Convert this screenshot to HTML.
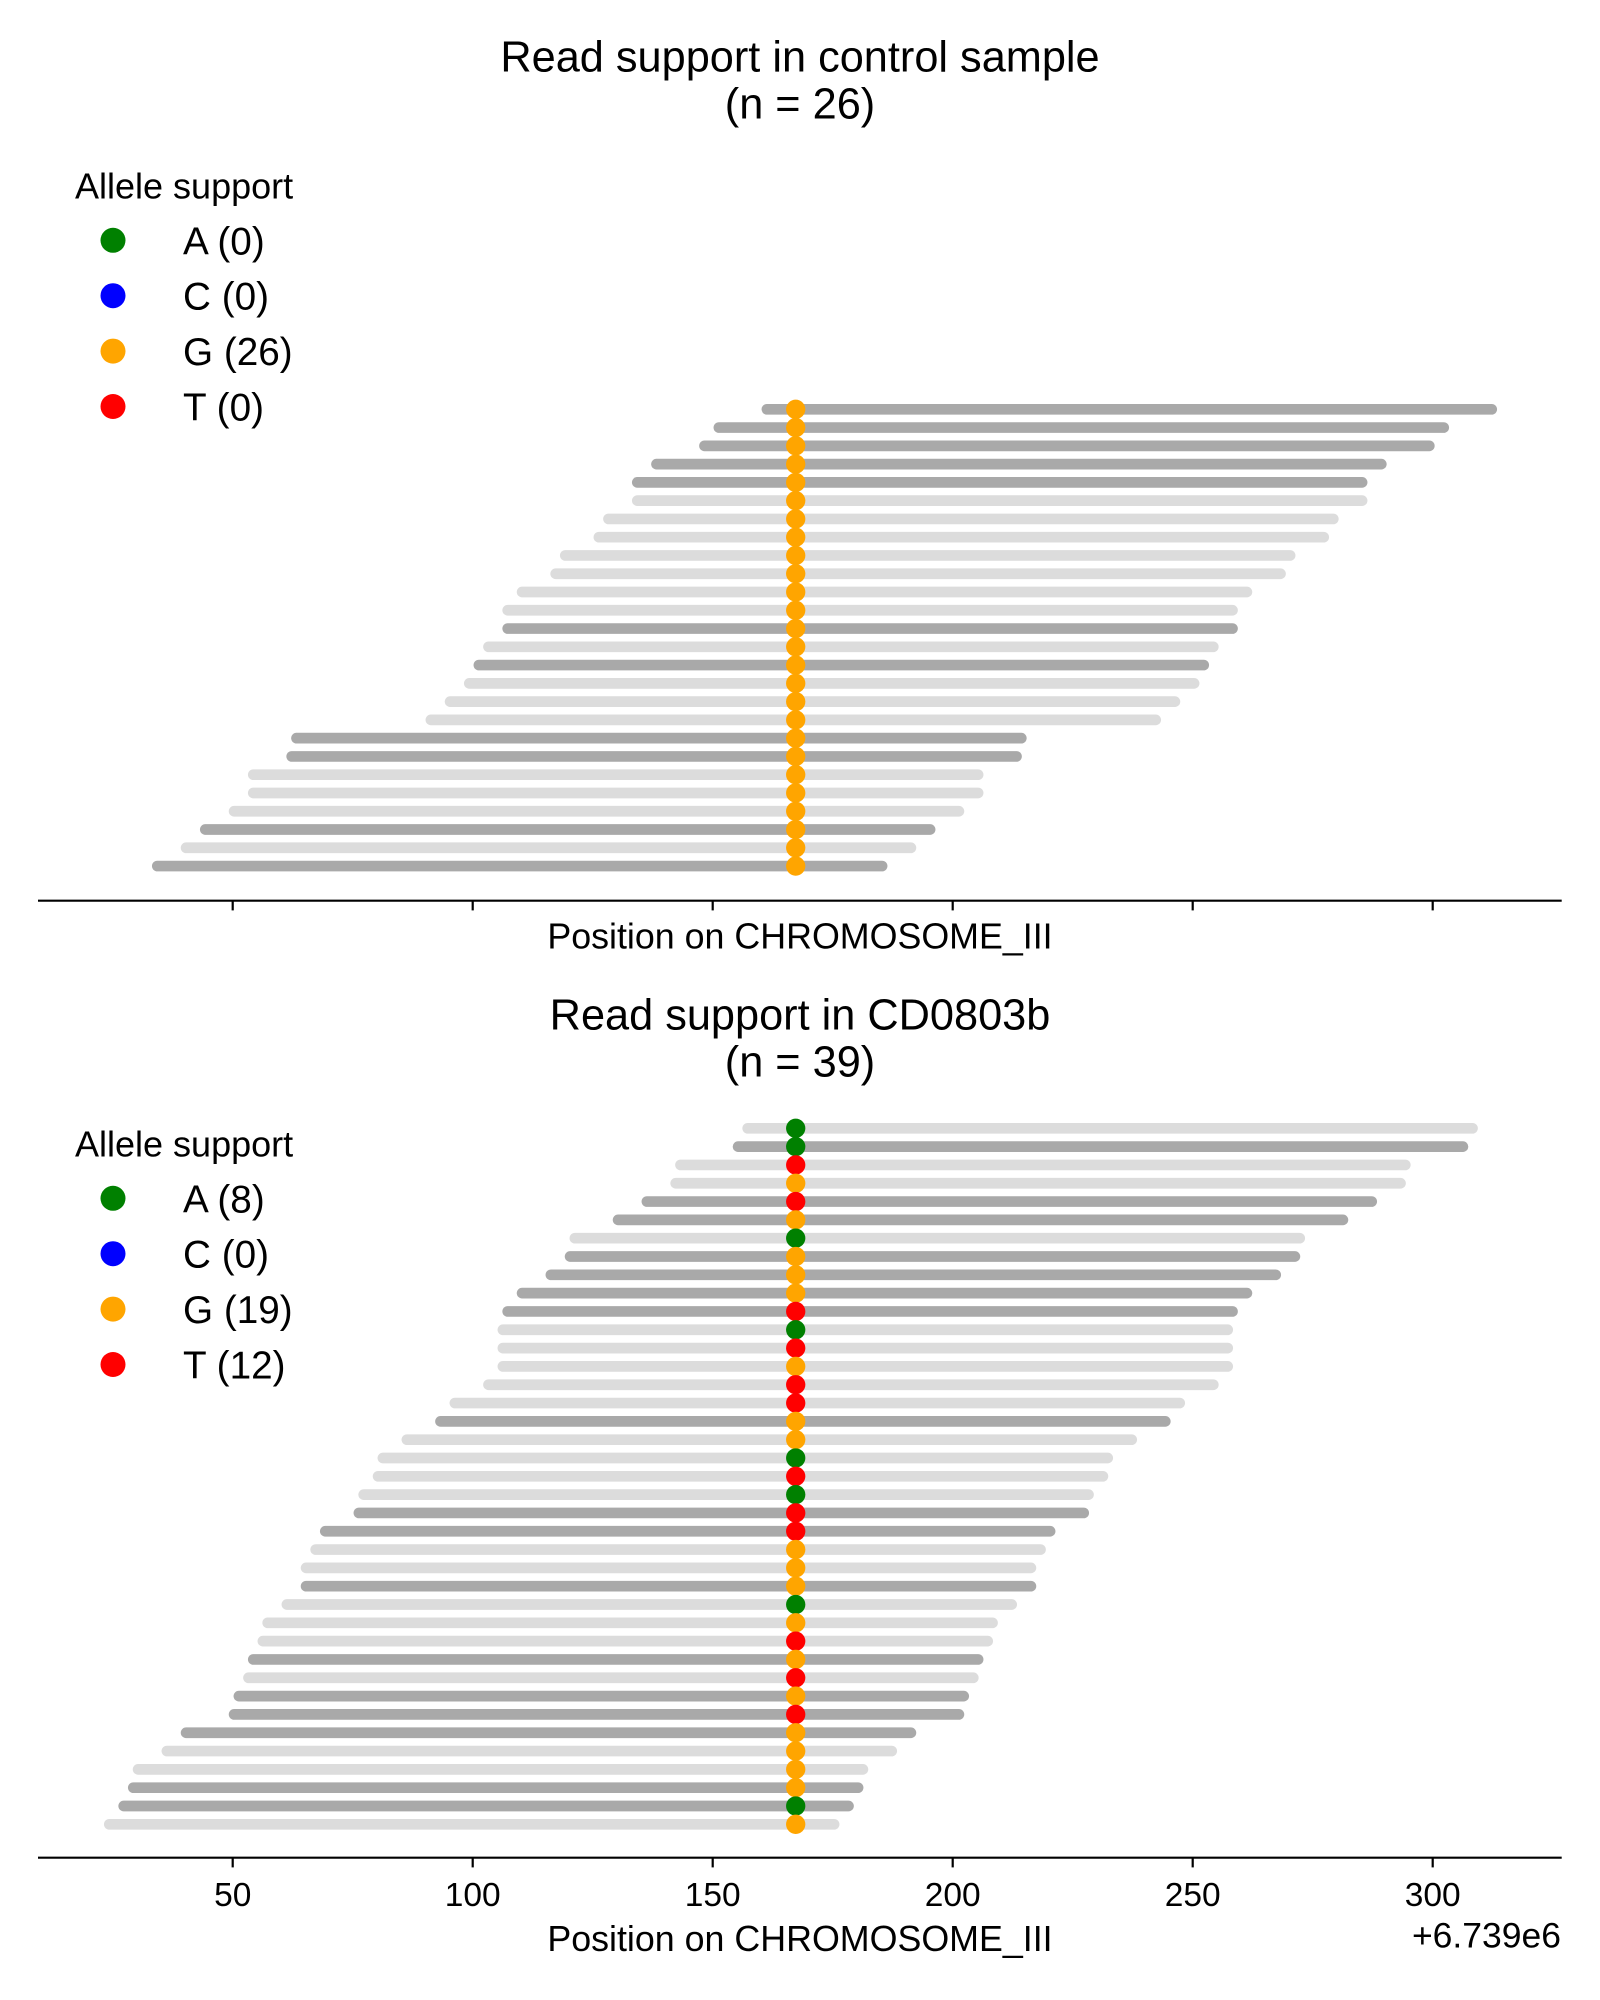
<!DOCTYPE html>
<html>
<head>
<meta charset="utf-8">
<style>
  html, body { margin: 0; padding: 0; background: #ffffff; }
  svg { display: block; }
  text { font-family: "Liberation Sans", Arial, Helvetica, sans-serif; fill: #000; }
  .d { stroke: #a9a9a9; stroke-width: 10.7; stroke-linecap: round; }
  .l { stroke: #dcdcdc; stroke-width: 10.7; stroke-linecap: round; }
  .g { fill: #008000; }
  .b { fill: #0000ff; }
  .o { fill: #ffa500; }
  .r { fill: #ff0000; }
  .ax { stroke: #000; stroke-width: 2.2; stroke-linecap: butt; }
  .tk { stroke: #000; stroke-width: 2.2; }
  .title { font-size: 43.3px; }
  .lab { font-size: 33.5px; }
  .xl { font-size: 35.8px; }
  .off { font-size: 35.5px; }
  .leg { font-size: 38.7px; }
  .legt { font-size: 36px; }
</style>
</head>
<body>
<svg width="1600" height="2000" viewBox="0 0 1600 2000" xmlns="http://www.w3.org/2000/svg">
<rect x="0" y="0" width="1600" height="2000" fill="#ffffff"/>

<!-- ================= TOP PANEL ================= -->
<text class="title" x="800" y="71.7" text-anchor="middle">Read support in control sample</text>
<text class="title" x="800" y="118.4" text-anchor="middle">(n = 26)</text>

<!-- legend top -->
<text class="legt" x="75" y="198.3">Allele support</text>
<circle class="g" cx="113" cy="240.3" r="12.5"/>
<text class="leg" x="183" y="254.3">A (0)</text>
<circle class="b" cx="113" cy="295.7" r="12.5"/>
<text class="leg" x="183" y="309.7">C (0)</text>
<circle class="o" cx="113" cy="351.1" r="12.5"/>
<text class="leg" x="183" y="365.1">G (26)</text>
<circle class="r" cx="113" cy="406.5" r="12.5"/>
<text class="leg" x="183" y="420.5">T (0)</text>

<!-- bars top -->
<line class="d" x1="766.9" y1="409.3" x2="1491.7" y2="409.3"/>
<line class="d" x1="718.9" y1="427.57" x2="1443.7" y2="427.57"/>
<line class="d" x1="704.5" y1="445.84" x2="1429.3" y2="445.84"/>
<line class="d" x1="656.5" y1="464.11" x2="1381.3" y2="464.11"/>
<line class="d" x1="637.3" y1="482.38" x2="1362.1" y2="482.38"/>
<line class="l" x1="637.3" y1="500.65" x2="1362.1" y2="500.65"/>
<line class="l" x1="608.5" y1="518.92" x2="1333.3" y2="518.92"/>
<line class="l" x1="598.9" y1="537.19" x2="1323.7" y2="537.19"/>
<line class="l" x1="565.3" y1="555.46" x2="1290.1" y2="555.46"/>
<line class="l" x1="555.7" y1="573.73" x2="1280.5" y2="573.73"/>
<line class="l" x1="522.1" y1="592.0" x2="1246.9" y2="592.0"/>
<line class="l" x1="507.7" y1="610.27" x2="1232.5" y2="610.27"/>
<line class="d" x1="507.7" y1="628.54" x2="1232.5" y2="628.54"/>
<line class="l" x1="488.5" y1="646.81" x2="1213.3" y2="646.81"/>
<line class="d" x1="478.9" y1="665.08" x2="1203.7" y2="665.08"/>
<line class="l" x1="469.3" y1="683.35" x2="1194.1" y2="683.35"/>
<line class="l" x1="450.1" y1="701.62" x2="1174.9" y2="701.62"/>
<line class="l" x1="430.9" y1="719.89" x2="1155.7" y2="719.89"/>
<line class="d" x1="296.5" y1="738.16" x2="1021.3" y2="738.16"/>
<line class="d" x1="291.7" y1="756.43" x2="1016.5" y2="756.43"/>
<line class="l" x1="253.3" y1="774.7" x2="978.1" y2="774.7"/>
<line class="l" x1="253.3" y1="792.97" x2="978.1" y2="792.97"/>
<line class="l" x1="234.1" y1="811.24" x2="958.9" y2="811.24"/>
<line class="d" x1="205.3" y1="829.51" x2="930.1" y2="829.51"/>
<line class="l" x1="186.1" y1="847.78" x2="910.9" y2="847.78"/>
<line class="d" x1="157.3" y1="866.05" x2="882.1" y2="866.05"/>

<!-- dots top -->
<g class="o">
<circle cx="795.7" cy="409.3" r="9.65"/>
<circle cx="795.7" cy="427.57" r="9.65"/>
<circle cx="795.7" cy="445.84" r="9.65"/>
<circle cx="795.7" cy="464.11" r="9.65"/>
<circle cx="795.7" cy="482.38" r="9.65"/>
<circle cx="795.7" cy="500.65" r="9.65"/>
<circle cx="795.7" cy="518.92" r="9.65"/>
<circle cx="795.7" cy="537.19" r="9.65"/>
<circle cx="795.7" cy="555.46" r="9.65"/>
<circle cx="795.7" cy="573.73" r="9.65"/>
<circle cx="795.7" cy="592.0" r="9.65"/>
<circle cx="795.7" cy="610.27" r="9.65"/>
<circle cx="795.7" cy="628.54" r="9.65"/>
<circle cx="795.7" cy="646.81" r="9.65"/>
<circle cx="795.7" cy="665.08" r="9.65"/>
<circle cx="795.7" cy="683.35" r="9.65"/>
<circle cx="795.7" cy="701.62" r="9.65"/>
<circle cx="795.7" cy="719.89" r="9.65"/>
<circle cx="795.7" cy="738.16" r="9.65"/>
<circle cx="795.7" cy="756.43" r="9.65"/>
<circle cx="795.7" cy="774.7" r="9.65"/>
<circle cx="795.7" cy="792.97" r="9.65"/>
<circle cx="795.7" cy="811.24" r="9.65"/>
<circle cx="795.7" cy="829.51" r="9.65"/>
<circle cx="795.7" cy="847.78" r="9.65"/>
<circle cx="795.7" cy="866.05" r="9.65"/>
</g>

<!-- axis top -->
<line class="ax" x1="38" y1="900.7" x2="1561.7" y2="900.7"/>
<line class="tk" x1="232.7" y1="900.7" x2="232.7" y2="910.4"/>
<line class="tk" x1="472.7" y1="900.7" x2="472.7" y2="910.4"/>
<line class="tk" x1="712.7" y1="900.7" x2="712.7" y2="910.4"/>
<line class="tk" x1="952.7" y1="900.7" x2="952.7" y2="910.4"/>
<line class="tk" x1="1192.7" y1="900.7" x2="1192.7" y2="910.4"/>
<line class="tk" x1="1432.7" y1="900.7" x2="1432.7" y2="910.4"/>
<text class="xl" x="800" y="948.3" text-anchor="middle">Position on CHROMOSOME_III</text>

<!-- ================= BOTTOM PANEL ================= -->
<text class="title" x="800" y="1029.7" text-anchor="middle">Read support in CD0803b</text>
<text class="title" x="800" y="1076.5" text-anchor="middle">(n = 39)</text>

<!-- legend bottom -->
<text class="legt" x="75" y="1156.3">Allele support</text>
<circle class="g" cx="113" cy="1198.3" r="12.5"/>
<text class="leg" x="183" y="1212.3">A (8)</text>
<circle class="b" cx="113" cy="1253.7" r="12.5"/>
<text class="leg" x="183" y="1267.7">C (0)</text>
<circle class="o" cx="113" cy="1309.1" r="12.5"/>
<text class="leg" x="183" y="1323.1">G (19)</text>
<circle class="r" cx="113" cy="1364.5" r="12.5"/>
<text class="leg" x="183" y="1378.5">T (12)</text>

<!-- bars bottom -->
<line class="l" x1="747.7" y1="1128.3" x2="1472.5" y2="1128.3"/>
<line class="d" x1="738.1" y1="1146.62" x2="1462.9" y2="1146.62"/>
<line class="l" x1="680.5" y1="1164.93" x2="1405.3" y2="1164.93"/>
<line class="l" x1="675.7" y1="1183.25" x2="1400.5" y2="1183.25"/>
<line class="d" x1="646.9" y1="1201.56" x2="1371.7" y2="1201.56"/>
<line class="d" x1="618.1" y1="1219.88" x2="1342.9" y2="1219.88"/>
<line class="l" x1="574.9" y1="1238.2" x2="1299.7" y2="1238.2"/>
<line class="d" x1="570.1" y1="1256.51" x2="1294.9" y2="1256.51"/>
<line class="d" x1="550.9" y1="1274.83" x2="1275.7" y2="1274.83"/>
<line class="d" x1="522.1" y1="1293.14" x2="1246.9" y2="1293.14"/>
<line class="d" x1="507.7" y1="1311.46" x2="1232.5" y2="1311.46"/>
<line class="l" x1="502.9" y1="1329.78" x2="1227.7" y2="1329.78"/>
<line class="l" x1="502.9" y1="1348.09" x2="1227.7" y2="1348.09"/>
<line class="l" x1="502.9" y1="1366.41" x2="1227.7" y2="1366.41"/>
<line class="l" x1="488.5" y1="1384.72" x2="1213.3" y2="1384.72"/>
<line class="l" x1="454.9" y1="1403.04" x2="1179.7" y2="1403.04"/>
<line class="d" x1="440.5" y1="1421.36" x2="1165.3" y2="1421.36"/>
<line class="l" x1="406.9" y1="1439.67" x2="1131.7" y2="1439.67"/>
<line class="l" x1="382.9" y1="1457.99" x2="1107.7" y2="1457.99"/>
<line class="l" x1="378.1" y1="1476.3" x2="1102.9" y2="1476.3"/>
<line class="l" x1="363.7" y1="1494.62" x2="1088.5" y2="1494.62"/>
<line class="d" x1="358.9" y1="1512.94" x2="1083.7" y2="1512.94"/>
<line class="d" x1="325.3" y1="1531.25" x2="1050.1" y2="1531.25"/>
<line class="l" x1="315.7" y1="1549.57" x2="1040.5" y2="1549.57"/>
<line class="l" x1="306.1" y1="1567.88" x2="1030.9" y2="1567.88"/>
<line class="d" x1="306.1" y1="1586.2" x2="1030.9" y2="1586.2"/>
<line class="l" x1="286.9" y1="1604.52" x2="1011.7" y2="1604.52"/>
<line class="l" x1="267.7" y1="1622.83" x2="992.5" y2="1622.83"/>
<line class="l" x1="262.9" y1="1641.15" x2="987.7" y2="1641.15"/>
<line class="d" x1="253.3" y1="1659.46" x2="978.1" y2="1659.46"/>
<line class="l" x1="248.5" y1="1677.78" x2="973.3" y2="1677.78"/>
<line class="d" x1="238.9" y1="1696.1" x2="963.7" y2="1696.1"/>
<line class="d" x1="234.1" y1="1714.41" x2="958.9" y2="1714.41"/>
<line class="d" x1="186.1" y1="1732.73" x2="910.9" y2="1732.73"/>
<line class="l" x1="166.9" y1="1751.04" x2="891.7" y2="1751.04"/>
<line class="l" x1="138.1" y1="1769.36" x2="862.9" y2="1769.36"/>
<line class="d" x1="133.3" y1="1787.68" x2="858.1" y2="1787.68"/>
<line class="d" x1="123.7" y1="1805.99" x2="848.5" y2="1805.99"/>
<line class="l" x1="109.3" y1="1824.31" x2="834.1" y2="1824.31"/>

<!-- dots bottom -->
<circle class="g" cx="795.7" cy="1128.3" r="9.65"/>
<circle class="g" cx="795.7" cy="1146.62" r="9.65"/>
<circle class="r" cx="795.7" cy="1164.93" r="9.65"/>
<circle class="o" cx="795.7" cy="1183.25" r="9.65"/>
<circle class="r" cx="795.7" cy="1201.56" r="9.65"/>
<circle class="o" cx="795.7" cy="1219.88" r="9.65"/>
<circle class="g" cx="795.7" cy="1238.2" r="9.65"/>
<circle class="o" cx="795.7" cy="1256.51" r="9.65"/>
<circle class="o" cx="795.7" cy="1274.83" r="9.65"/>
<circle class="o" cx="795.7" cy="1293.14" r="9.65"/>
<circle class="r" cx="795.7" cy="1311.46" r="9.65"/>
<circle class="g" cx="795.7" cy="1329.78" r="9.65"/>
<circle class="r" cx="795.7" cy="1348.09" r="9.65"/>
<circle class="o" cx="795.7" cy="1366.41" r="9.65"/>
<circle class="r" cx="795.7" cy="1384.72" r="9.65"/>
<circle class="r" cx="795.7" cy="1403.04" r="9.65"/>
<circle class="o" cx="795.7" cy="1421.36" r="9.65"/>
<circle class="o" cx="795.7" cy="1439.67" r="9.65"/>
<circle class="g" cx="795.7" cy="1457.99" r="9.65"/>
<circle class="r" cx="795.7" cy="1476.3" r="9.65"/>
<circle class="g" cx="795.7" cy="1494.62" r="9.65"/>
<circle class="r" cx="795.7" cy="1512.94" r="9.65"/>
<circle class="r" cx="795.7" cy="1531.25" r="9.65"/>
<circle class="o" cx="795.7" cy="1549.57" r="9.65"/>
<circle class="o" cx="795.7" cy="1567.88" r="9.65"/>
<circle class="o" cx="795.7" cy="1586.2" r="9.65"/>
<circle class="g" cx="795.7" cy="1604.52" r="9.65"/>
<circle class="o" cx="795.7" cy="1622.83" r="9.65"/>
<circle class="r" cx="795.7" cy="1641.15" r="9.65"/>
<circle class="o" cx="795.7" cy="1659.46" r="9.65"/>
<circle class="r" cx="795.7" cy="1677.78" r="9.65"/>
<circle class="o" cx="795.7" cy="1696.1" r="9.65"/>
<circle class="r" cx="795.7" cy="1714.41" r="9.65"/>
<circle class="o" cx="795.7" cy="1732.73" r="9.65"/>
<circle class="o" cx="795.7" cy="1751.04" r="9.65"/>
<circle class="o" cx="795.7" cy="1769.36" r="9.65"/>
<circle class="o" cx="795.7" cy="1787.68" r="9.65"/>
<circle class="g" cx="795.7" cy="1805.99" r="9.65"/>
<circle class="o" cx="795.7" cy="1824.31" r="9.65"/>

<!-- axis bottom -->
<line class="ax" x1="38" y1="1857.7" x2="1561.7" y2="1857.7"/>
<line class="tk" x1="232.7" y1="1857.7" x2="232.7" y2="1867.4"/>
<line class="tk" x1="472.7" y1="1857.7" x2="472.7" y2="1867.4"/>
<line class="tk" x1="712.7" y1="1857.7" x2="712.7" y2="1867.4"/>
<line class="tk" x1="952.7" y1="1857.7" x2="952.7" y2="1867.4"/>
<line class="tk" x1="1192.7" y1="1857.7" x2="1192.7" y2="1867.4"/>
<line class="tk" x1="1432.7" y1="1857.7" x2="1432.7" y2="1867.4"/>
<text class="lab" x="232.7" y="1906" text-anchor="middle">50</text>
<text class="lab" x="472.7" y="1906" text-anchor="middle">100</text>
<text class="lab" x="712.7" y="1906" text-anchor="middle">150</text>
<text class="lab" x="952.7" y="1906" text-anchor="middle">200</text>
<text class="lab" x="1192.7" y="1906" text-anchor="middle">250</text>
<text class="lab" x="1432.7" y="1906" text-anchor="middle">300</text>
<text class="xl" x="800" y="1951" text-anchor="middle">Position on CHROMOSOME_III</text>
<text class="off" x="1561" y="1947.7" text-anchor="end">+6.739e6</text>
</svg>
</body>
</html>
